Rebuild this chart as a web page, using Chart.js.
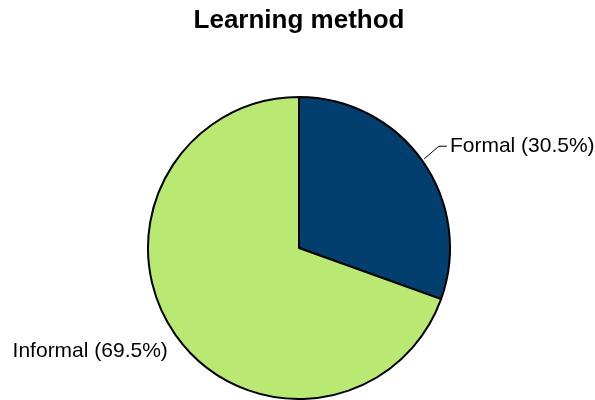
<!DOCTYPE html>
<html>
<head>
<meta charset="utf-8">
<script src="https://cdn.jsdelivr.net/npm/chart.js@4/dist/chart.umd.min.js"></script>
<style>
  html, body { margin: 0; padding: 0; background: #ffffff; }
  #wrap { width: 595px; height: 400px; position: relative; }
</style>
</head>
<body>
<div id="wrap"><canvas id="chart" width="595" height="400"></canvas></div>
<script>
// Learning method shares (percent)
const categories = ['Formal', 'Informal'];
const shares = [30.5, 69.5];
const sliceColors = ['#023F6E', '#BAE973'];
const chartTitle = 'Learning method';

// Outside labels: "Name (xx.x%)" placed near each slice's middle angle
const outsideLabels = {
  id: 'outsideLabels',
  afterDatasetsDraw(chart) {
    const ctx = chart.ctx;
    const meta = chart.getDatasetMeta(0);
    ctx.save();
    ctx.font = '21px "Liberation Sans", Arial, sans-serif';
    ctx.fillStyle = '#000000';
    ctx.strokeStyle = '#000000';
    ctx.lineWidth = 1;
    ctx.textBaseline = 'alphabetic';
    meta.data.forEach((arc, i) => {
      const p = arc.getProps(['x', 'y', 'startAngle', 'endAngle', 'outerRadius'], true);
      const mid = (p.startAngle + p.endAngle) / 2;
      const cos = Math.cos(mid), sin = Math.sin(mid);
      const text = categories[i] + ' (' + shares[i].toFixed(1) + '%)';
      const ax = p.x + cos * (p.outerRadius + 2);
      const ay = p.y + sin * (p.outerRadius + 4);
      if (cos >= 0) {
        // leader line with a short horizontal tail
        const ex = p.x + cos * (p.outerRadius + 20);
        const ey = p.y + sin * (p.outerRadius + 26);
        ctx.beginPath();
        ctx.moveTo(ax, ay);
        ctx.lineTo(ex, ey);
        ctx.lineTo(ex + 8, ey);
        ctx.stroke();
        ctx.textAlign = 'left';
        ctx.fillText(text, ex + 11, ey + 6);
      } else {
        ctx.textAlign = 'right';
        ctx.fillText(text, ax - 6, ay + 20);
      }
    });
    ctx.restore();
  }
};

new Chart(document.getElementById('chart'), {
  type: 'pie',
  data: {
    labels: categories,
    datasets: [{
      data: shares,
      backgroundColor: sliceColors,
      borderColor: '#000000',
      borderWidth: 2
    }]
  },
  options: {
    responsive: false,
    animation: false,
    layout: { padding: { left: 3, right: 0, top: 0, bottom: 0 } },
    plugins: {
      legend: { display: false },
      tooltip: { enabled: false },
      title: {
        display: true,
        text: chartTitle,
        color: '#000000',
        font: { family: '"Liberation Sans", Arial, sans-serif', size: 26, weight: 'bold' },
        padding: { top: 5, bottom: 59.8 }
      }
    }
  },
  plugins: [outsideLabels]
});
</script>
</body>
</html>
